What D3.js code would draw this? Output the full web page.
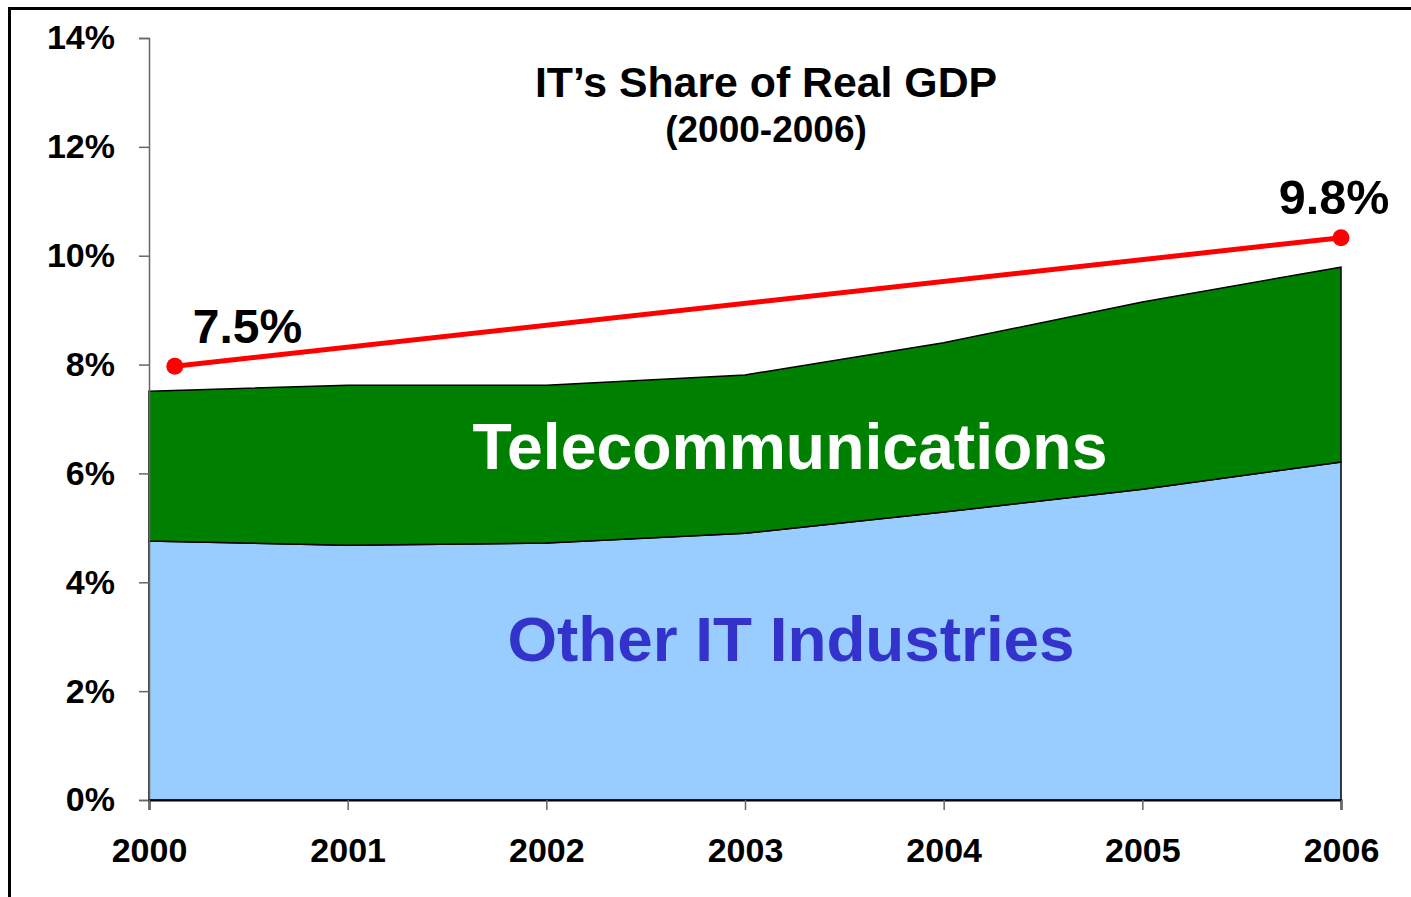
<!DOCTYPE html>
<html><head><meta charset="utf-8">
<script src="https://cdn.jsdelivr.net/npm/d3@7"></script>
<style>body{margin:0;background:#fff;} text{font-family:"Liberation Sans",Arial,sans-serif;font-weight:bold;}</style>
</head><body>
<svg id="c" width="1411" height="897"></svg>
<script>
const years = [2000, 2001, 2002, 2003, 2004, 2005, 2006];
const otherIT = [4.76, 4.68, 4.72, 4.90, 5.29, 5.71, 6.21];
const totalIT = [7.51, 7.62, 7.62, 7.81, 8.40, 9.15, 9.79];
const trendX = [2000.13, 2006.0];
const trendY = [7.97, 10.33];
const trendLabels = ["7.5%", "9.8%"];
const yTicks = [0, 2, 4, 6, 8, 10, 12, 14];

const svg = d3.select("#c");
svg.append("rect").attr("x", 9.5).attr("y", 8.5).attr("width", 1420).attr("height", 1000)
  .attr("fill", "none").attr("stroke", "#000").attr("stroke-width", 3);

const x = d3.scaleLinear().domain([2000, 2006]).range([149, 1341]);
const y = d3.scaleLinear().domain([0, 14]).range([800, 38]);

const telecom = years.map((yr, i) => ({yr, lo: otherIT[i], hi: totalIT[i]}));
const other = years.map((yr, i) => ({yr, lo: 0, hi: otherIT[i]}));
const area = d3.area().x(d => x(d.yr)).y0(d => y(d.lo)).y1(d => y(d.hi));

svg.append("path").datum(other).attr("d", area).attr("fill", "#99ccff").attr("stroke", "#000").attr("stroke-width", 1.5);
svg.append("path").datum(telecom).attr("d", area).attr("fill", "#008000").attr("stroke", "#000").attr("stroke-width", 1.5);

// axes
const yAxis = d3.axisLeft(y).tickValues(yTicks).tickFormat(d => d + "%").tickSize(10).tickPadding(24);
const gy = svg.append("g").attr("transform", "translate(149,0)").call(yAxis);
gy.selectAll("path,line").attr("stroke", "#666").attr("stroke-width", 1.5);
gy.selectAll("text").attr("font-size", 34).attr("fill", "#000").attr("font-family", "Liberation Sans, Arial, sans-serif").attr("font-weight", "bold");

const xAxis = d3.axisBottom(x).tickValues(years).tickFormat(d3.format("d")).tickSize(10).tickPadding(28);
const gx = svg.append("g").attr("transform", "translate(0,800)").call(xAxis);
gx.select("path").attr("stroke", "#000").attr("stroke-width", 2);
gx.selectAll("line").attr("stroke", "#666").attr("stroke-width", 1.5);
gx.selectAll("text").attr("font-size", 34).attr("fill", "#000").attr("font-family", "Liberation Sans, Arial, sans-serif").attr("font-weight", "bold");

// area labels
svg.append("text").attr("x", 790).attr("y", 469).attr("text-anchor", "middle").attr("font-size", 64.3).attr("fill", "#fff").text("Telecommunications");
svg.append("text").attr("x", 791).attr("y", 661).attr("text-anchor", "middle").attr("font-size", 63.8).attr("fill", "#3333cc").text("Other IT Industries");

// trend line
const pts = trendX.map((t, i) => [t, trendY[i]]);
svg.append("path").datum(pts).attr("d", d3.line().x(d => x(d[0])).y(d => y(d[1])))
  .attr("stroke", "#ff0000").attr("stroke-width", 5).attr("fill", "none");
svg.selectAll("circle.t").data(pts).enter().append("circle")
  .attr("cx", d => x(d[0])).attr("cy", d => y(d[1])).attr("r", 8.5).attr("fill", "#ff0000");
svg.append("text").attr("x", x(trendX[0]) + 18).attr("y", y(trendY[0]) - 23).attr("font-size", 48).attr("fill", "#000").text(trendLabels[0]);
svg.append("text").attr("x", x(trendX[1]) - 7).attr("y", y(trendY[1]) - 24).attr("text-anchor", "middle").attr("font-size", 48.5).attr("fill", "#000").text(trendLabels[1]);

// title
svg.append("text").attr("x", 766).attr("y", 97).attr("text-anchor", "middle").attr("font-size", 42.8).attr("fill", "#000").text("IT’s Share of Real GDP");
svg.append("text").attr("x", 766).attr("y", 142).attr("text-anchor", "middle").attr("font-size", 37).attr("fill", "#000").text("(2000-2006)");
</script>
</body></html>
